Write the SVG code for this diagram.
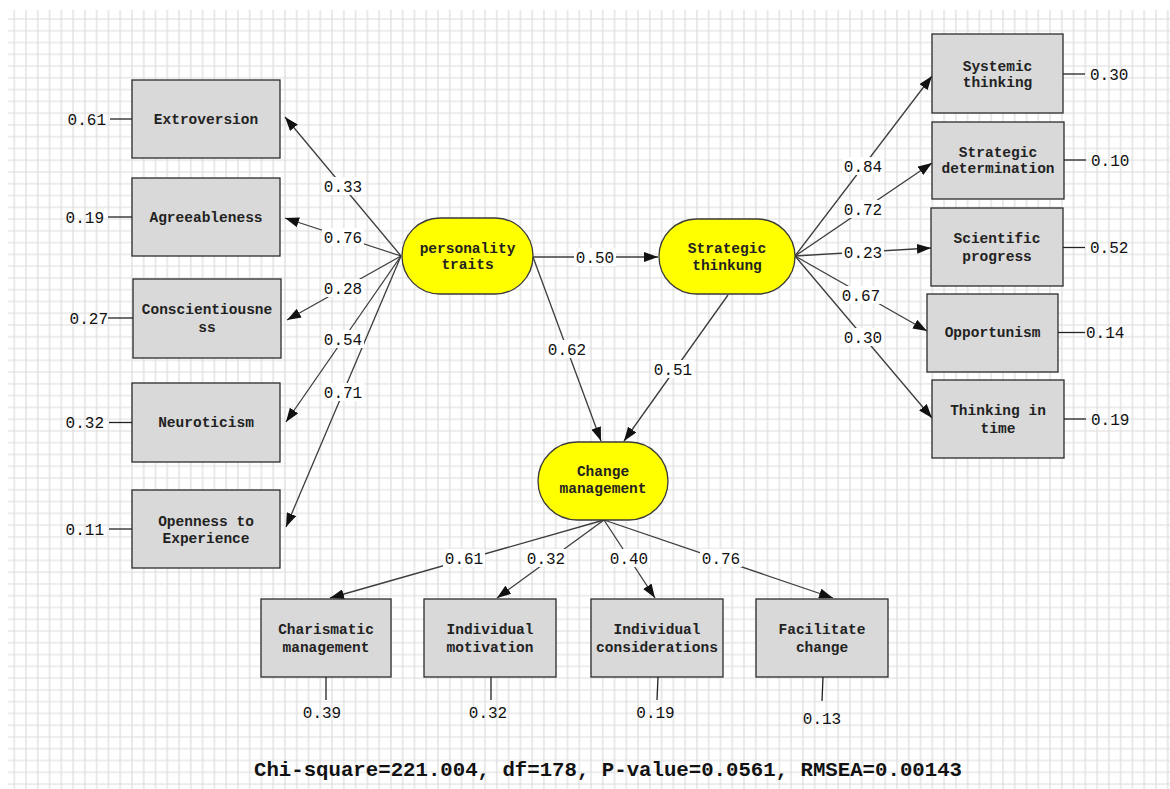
<svg xmlns="http://www.w3.org/2000/svg" width="1170" height="789" viewBox="0 0 1170 789">
<style>
.box{fill:#d9d9d9;stroke:#2b2b2b;stroke-width:1.3}
.lat{fill:#ffff00;stroke:#3a3a3a;stroke-width:1.3}
.nt{font-family:"Liberation Mono","DejaVu Sans Mono",monospace;font-weight:bold;font-size:14.5px;fill:#222;text-anchor:middle}
.el{font-family:"Liberation Mono","DejaVu Sans Mono",monospace;font-size:16px;fill:#111;text-anchor:middle}
.rl{font-family:"Liberation Mono","DejaVu Sans Mono",monospace;font-size:16px;fill:#111}
.e{stroke:#3c3c3c;stroke-width:1.3;fill:none;marker-end:url(#arr)}
.r{stroke:#222;stroke-width:1.3;fill:none}
.lb{fill:#fff}
</style>
<defs>
<marker id="arr" viewBox="0 0 14 10" refX="14" refY="5" markerWidth="14" markerHeight="10" markerUnits="userSpaceOnUse" orient="auto">
<path d="M0,0 L14,5 L0,10 z" fill="#111"/>
</marker>
<pattern id="gp" x="8.4" y="13.1" width="11.77" height="11.77" patternUnits="userSpaceOnUse">
<path d="M5.885,0 V11.77 M0,5.885 H11.77" stroke="#dcdcdc" stroke-width="1.2"/>
</pattern>
</defs>
<rect x="0" y="0" width="1170" height="789" fill="#fff"/>
<rect id="grid" x="8" y="10" width="1162" height="779" fill="url(#gp)"/>

<g id="connectors">
<line class="e" x1="401" y1="256" x2="285" y2="117"/>
<line class="e" x1="401" y1="256" x2="285" y2="218"/>
<line class="e" x1="401" y1="256" x2="287" y2="320"/>
<line class="e" x1="401" y1="256" x2="286" y2="422"/>
<line class="e" x1="401" y1="256" x2="286" y2="527"/>
<line class="e" x1="533" y1="257" x2="658" y2="257"/>
<line class="e" x1="533" y1="257" x2="601" y2="441"/>
<line class="e" x1="728" y1="295" x2="624" y2="441"/>
<line class="e" x1="795" y1="256" x2="932" y2="76"/>
<line class="e" x1="795" y1="256" x2="932" y2="163"/>
<line class="e" x1="795" y1="256" x2="931" y2="248"/>
<line class="e" x1="795" y1="256" x2="927" y2="331"/>
<line class="e" x1="795" y1="256" x2="932" y2="418"/>
<line class="e" x1="604" y1="520" x2="330" y2="598"/>
<line class="e" x1="604" y1="520" x2="497" y2="598"/>
<line class="e" x1="604" y1="520" x2="655" y2="598"/>
<line class="e" x1="604" y1="520" x2="833" y2="598"/>
<g id="edge-labels">
<rect class="lb" x="322" y="177" width="42" height="18"/><text class="el" x="343" y="191.5">0.33</text>
<rect class="lb" x="322" y="228" width="42" height="18"/><text class="el" x="343" y="242.5">0.76</text>
<rect class="lb" x="322" y="279" width="42" height="18"/><text class="el" x="343" y="293.5">0.28</text>
<rect class="lb" x="322" y="330" width="42" height="18"/><text class="el" x="343" y="344.5">0.54</text>
<rect class="lb" x="322" y="383" width="42" height="18"/><text class="el" x="343" y="397.5">0.71</text>
<rect class="lb" x="574" y="248" width="42" height="18"/><text class="el" x="595" y="262.5">0.50</text>
<rect class="lb" x="546" y="340" width="42" height="18"/><text class="el" x="567" y="354.5">0.62</text>
<rect class="lb" x="652" y="360" width="42" height="18"/><text class="el" x="673" y="374.5">0.51</text>
<rect class="lb" x="842" y="157" width="42" height="18"/><text class="el" x="863" y="171.5">0.84</text>
<rect class="lb" x="842" y="200" width="42" height="18"/><text class="el" x="863" y="214.5">0.72</text>
<rect class="lb" x="842" y="243" width="42" height="18"/><text class="el" x="863" y="257.5">0.23</text>
<rect class="lb" x="840" y="286" width="42" height="18"/><text class="el" x="861" y="300.5">0.67</text>
<rect class="lb" x="842" y="328" width="42" height="18"/><text class="el" x="863" y="342.5">0.30</text>
<rect class="lb" x="443" y="549" width="42" height="18"/><text class="el" x="464" y="563.5">0.61</text>
<rect class="lb" x="525" y="549" width="42" height="18"/><text class="el" x="546" y="563.5">0.32</text>
<rect class="lb" x="608" y="549" width="42" height="18"/><text class="el" x="629" y="563.5">0.40</text>
<rect class="lb" x="700" y="549" width="42" height="18"/><text class="el" x="721" y="563.5">0.76</text>
</g>
</g>

<g id="extroversion">
<rect class="box" x="132" y="80" width="148" height="78"/>
<text class="nt" x="206" y="124">Extroversion</text>
<line class="r" x1="110" y1="119" x2="132" y2="119"/>
<text class="rl" x="106" y="124.5" text-anchor="end">0.61</text>
</g>
<g id="agreeableness">
<rect class="box" x="132" y="178" width="148" height="78"/>
<text class="nt" x="206" y="222">Agreeableness</text>
<line class="r" x1="108" y1="217" x2="132" y2="217"/>
<text class="rl" x="104" y="222.5" text-anchor="end">0.19</text>
</g>
<g id="conscientiousness">
<rect class="box" x="133" y="279" width="148" height="79"/>
<text class="nt" x="207" y="314">Conscientiousne</text>
<text class="nt" x="207" y="332">ss</text>
<line class="r" x1="108" y1="318" x2="133" y2="318"/>
<text class="rl" x="108" y="323.5" text-anchor="end">0.27</text>
</g>
<g id="neuroticism">
<rect class="box" x="132" y="383" width="148" height="79"/>
<text class="nt" x="206" y="427">Neuroticism</text>
<line class="r" x1="109" y1="422.5" x2="132" y2="422.5"/>
<text class="rl" x="104" y="428" text-anchor="end">0.32</text>
</g>
<g id="openness">
<rect class="box" x="132" y="490" width="148" height="78"/>
<text class="nt" x="206" y="526">Openness to</text>
<text class="nt" x="206" y="543">Experience</text>
<line class="r" x1="109" y1="529" x2="132" y2="529"/>
<text class="rl" x="104" y="534.5" text-anchor="end">0.11</text>
</g>

<g id="personality-traits">
<rect class="lat" x="402" y="218" width="131" height="76" rx="38" ry="38"/>
<text class="nt" x="467.5" y="252.5">personality</text>
<text class="nt" x="467.5" y="269">traits</text>
</g>
<g id="strategic-thinkung">
<rect class="lat" x="659" y="219" width="136" height="75" rx="37.5" ry="37.5"/>
<text class="nt" x="727" y="253">Strategic</text>
<text class="nt" x="727" y="270">thinkung</text>
</g>
<g id="change-management">
<rect class="lat" x="538" y="442" width="130" height="78" rx="39" ry="39"/>
<text class="nt" x="603" y="476">Change</text>
<text class="nt" x="603" y="493">management</text>
</g>

<g id="systemic-thinking">
<rect class="box" x="932" y="34" width="131" height="79"/>
<text class="nt" x="997.5" y="70.5">Systemic</text>
<text class="nt" x="997.5" y="87">thinking</text>
<line class="r" x1="1063" y1="74" x2="1085" y2="74"/>
<text class="rl" x="1090" y="79.5">0.30</text>
</g>
<g id="strategic-determination">
<rect class="box" x="932" y="122" width="132" height="77"/>
<text class="nt" x="998" y="156.5">Strategic</text>
<text class="nt" x="998" y="173">determination</text>
<line class="r" x1="1064" y1="160" x2="1086" y2="160"/>
<text class="rl" x="1091" y="165.5">0.10</text>
</g>
<g id="scientific-progress">
<rect class="box" x="931" y="208" width="132" height="78"/>
<text class="nt" x="997" y="242.5">Scientific</text>
<text class="nt" x="997" y="260.5">progress</text>
<line class="r" x1="1063" y1="247.5" x2="1085" y2="247.5"/>
<text class="rl" x="1090" y="253">0.52</text>
</g>
<g id="opportunism">
<rect class="box" x="927" y="294" width="131" height="78"/>
<text class="nt" x="992.5" y="337">Opportunism</text>
<line class="r" x1="1058" y1="332.5" x2="1085" y2="332.5"/>
<text class="rl" x="1086" y="338">0.14</text>
</g>
<g id="thinking-in-time">
<rect class="box" x="932" y="380" width="132" height="78"/>
<text class="nt" x="998" y="415">Thinking in</text>
<text class="nt" x="998" y="432.5">time</text>
<line class="r" x1="1064" y1="419" x2="1086" y2="419"/>
<text class="rl" x="1091" y="424.5">0.19</text>
</g>

<g id="charismatic-management">
<rect class="box" x="261" y="599" width="130" height="78"/>
<text class="nt" x="326" y="634">Charismatic</text>
<text class="nt" x="326" y="651.5">management</text>
<line class="r" x1="326" y1="677" x2="326" y2="700"/>
<text class="rl" x="322" y="718" text-anchor="middle">0.39</text>
</g>
<g id="individual-motivation">
<rect class="box" x="424" y="599" width="132" height="78"/>
<text class="nt" x="490" y="634">Individual</text>
<text class="nt" x="490" y="651.5">motivation</text>
<line class="r" x1="491" y1="677" x2="491" y2="700"/>
<text class="rl" x="488" y="718" text-anchor="middle">0.32</text>
</g>
<g id="individual-considerations">
<rect class="box" x="591" y="599" width="132" height="78"/>
<text class="nt" x="657" y="634">Individual</text>
<text class="nt" x="657" y="651.5">considerations</text>
<line class="r" x1="658" y1="677" x2="657" y2="700"/>
<text class="rl" x="655.5" y="718" text-anchor="middle">0.19</text>
</g>
<g id="facilitate-change">
<rect class="box" x="756" y="599" width="132" height="78"/>
<text class="nt" x="822" y="634">Facilitate</text>
<text class="nt" x="822" y="651.5">change</text>
<line class="r" x1="823" y1="677" x2="822" y2="701"/>
<text class="rl" x="822" y="724" text-anchor="middle">0.13</text>
</g>

<text id="fit-stats" x="254" y="776" textLength="708" lengthAdjust="spacingAndGlyphs" font-family="'Liberation Mono','DejaVu Sans Mono',monospace" font-weight="bold" font-size="21" fill="#111">Chi-square=221.004, df=178, P-value=0.0561, RMSEA=0.00143</text>
</svg>
